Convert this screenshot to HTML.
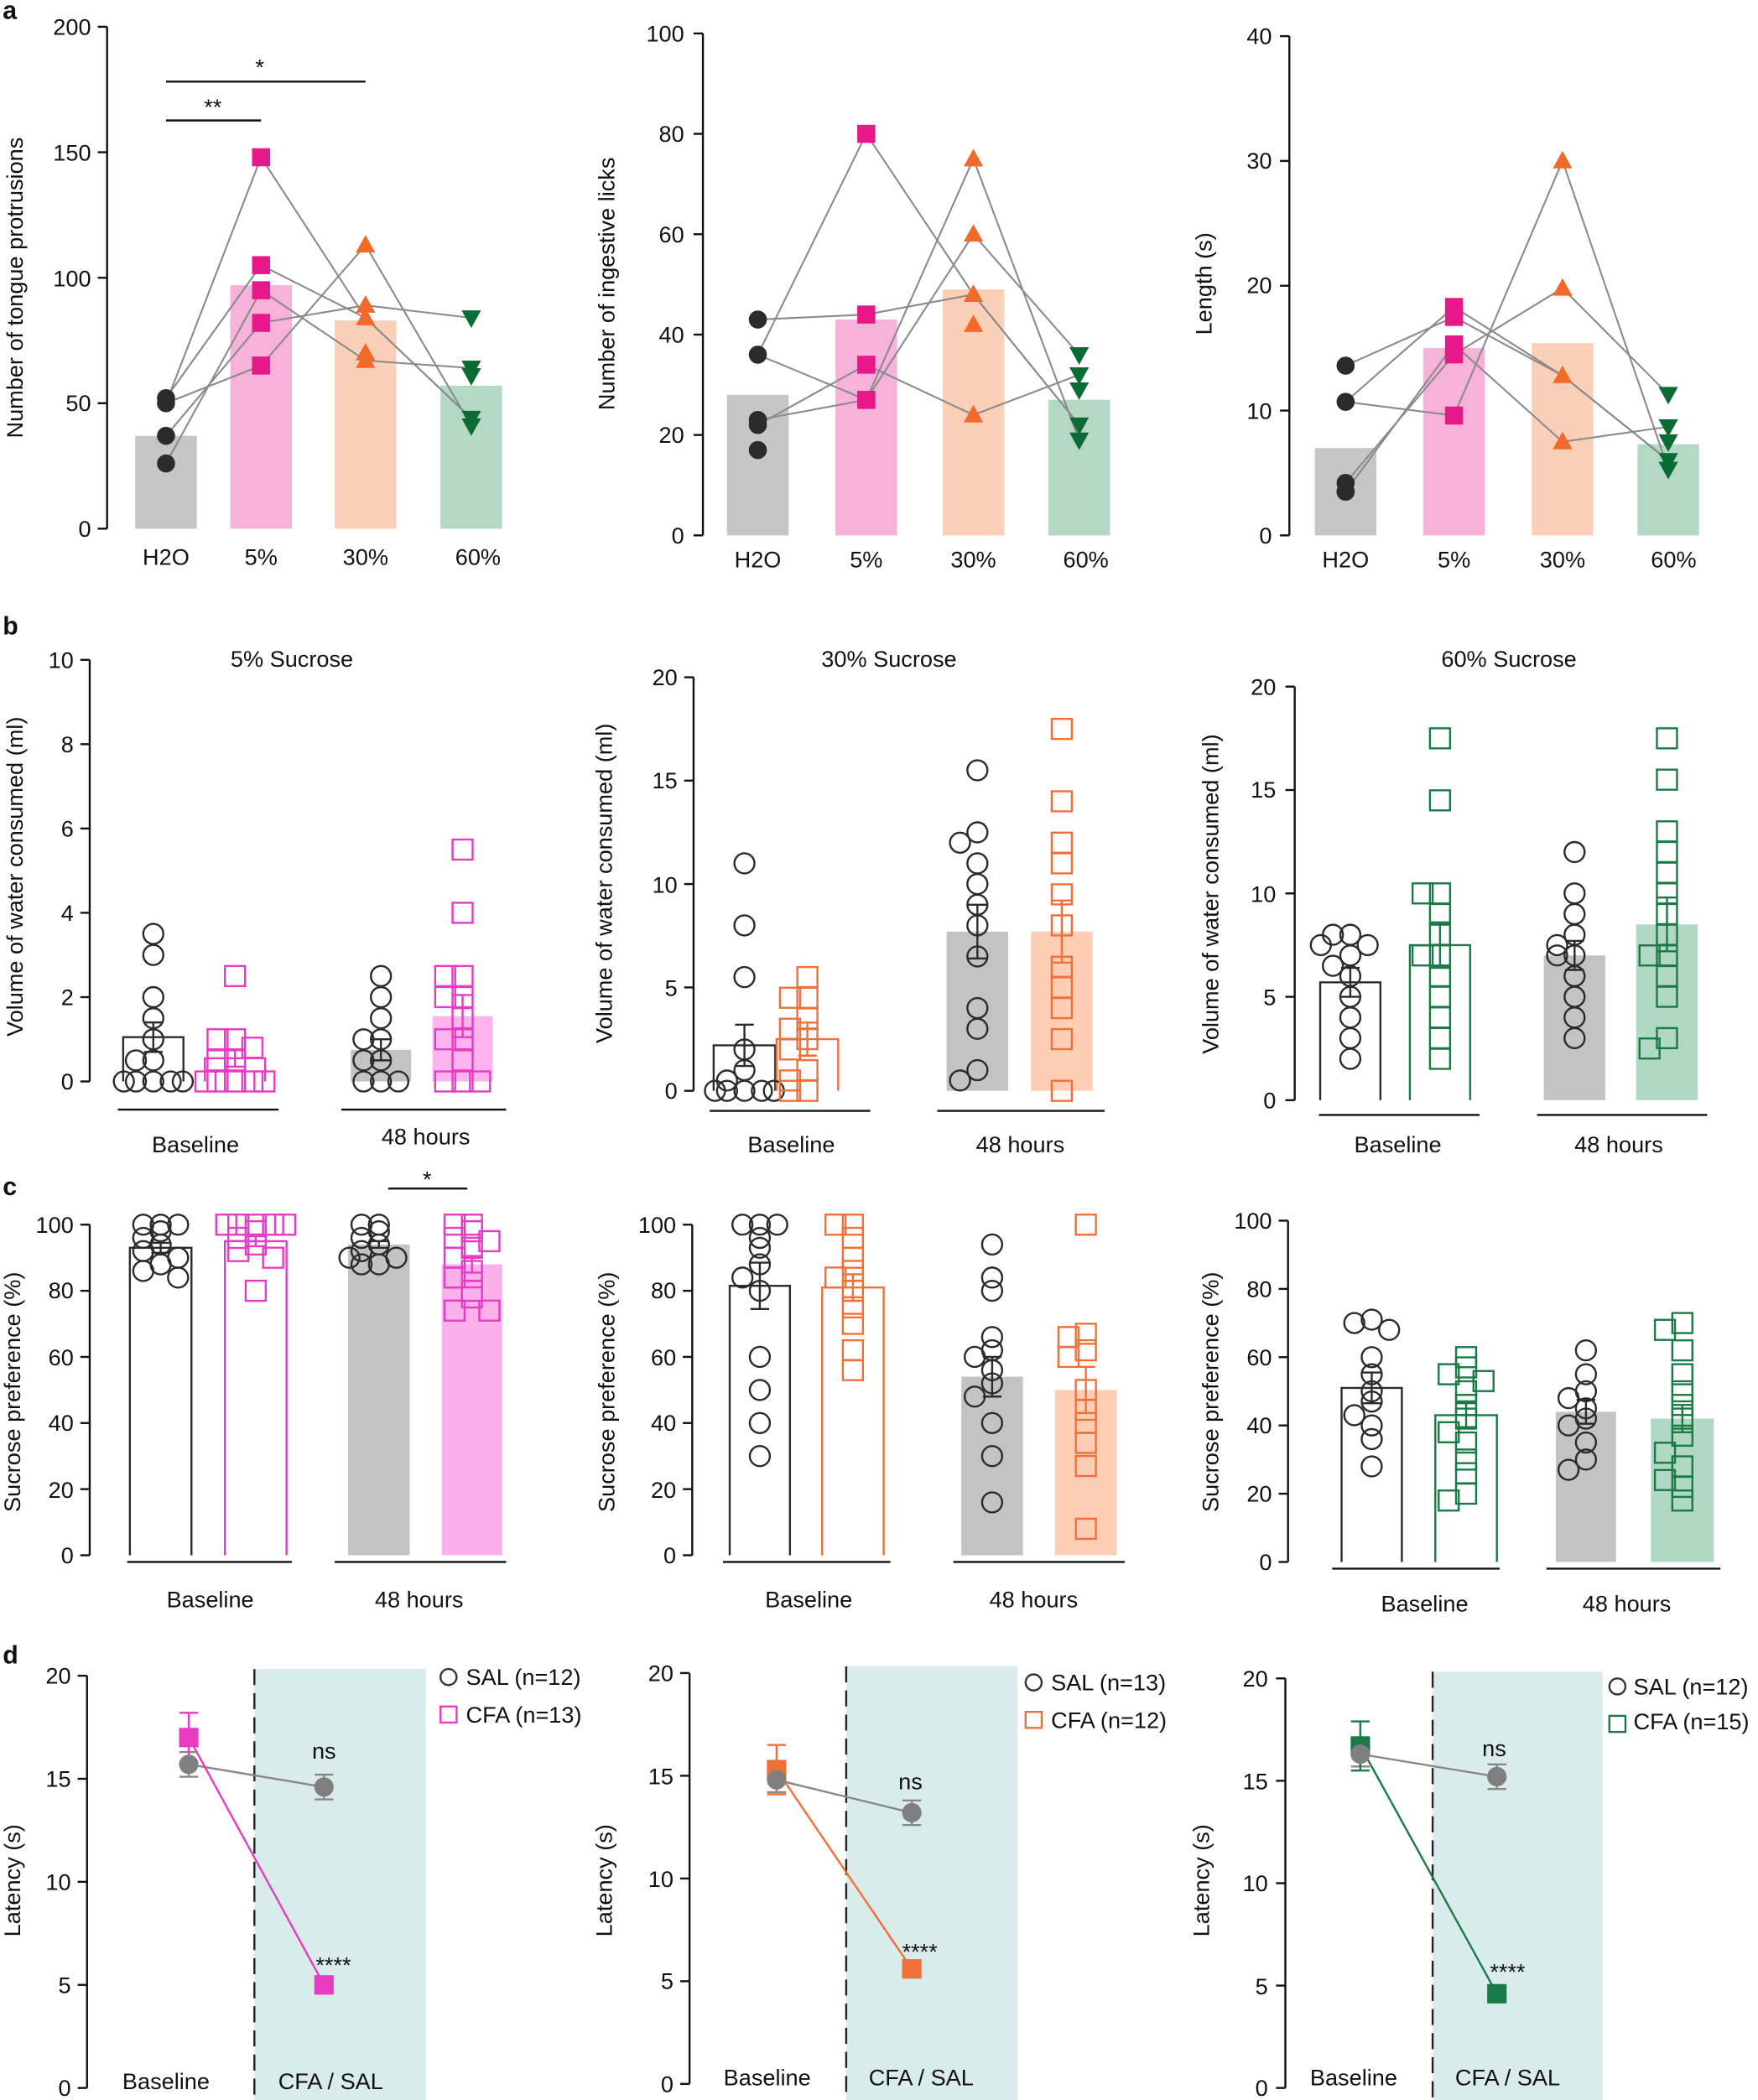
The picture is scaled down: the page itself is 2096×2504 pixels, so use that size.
<!DOCTYPE html>
<html><head><meta charset="utf-8"><style>
html,body{margin:0;padding:0;background:#fff}
svg{display:block}
text{font-family:"Liberation Sans",Arial,sans-serif;fill:#111}
.t{font-size:17px}
.tr{font-size:17px;text-anchor:end}
.m{font-size:17px;text-anchor:middle}
.b{font-size:19px;font-weight:bold}
</style></head><body>
<svg id="s" width="2096" height="2504" viewBox="0 0 1313 1569" preserveAspectRatio="none" xmlns="http://www.w3.org/2000/svg">
<g id="shapes"></g>
<text class="b" x="2" y="14">a</text>
<text class="b" x="2" y="474">b</text>
<text class="b" x="2" y="893">c</text>
<text class="b" x="2" y="1243">d</text>
<!-- a1 -->
<text class="tr" x="68" y="401">0</text><text class="tr" x="68" y="307">50</text><text class="tr" x="68" y="214">100</text><text class="tr" x="68" y="120">150</text><text class="tr" x="68" y="26">200</text>
<text class="m" x="124" y="422">H2O</text><text class="m" x="195" y="422">5%</text><text class="m" x="273" y="422">30%</text><text class="m" x="357" y="422">60%</text>
<text class="m" transform="translate(17,215) rotate(-90)">Number of tongue protrusions</text>
<text class="m" x="159" y="86">**</text><text class="m" x="194" y="56">*</text>
<!-- a2 -->
<text class="tr" x="511" y="406">0</text><text class="tr" x="511" y="331">20</text><text class="tr" x="511" y="256">40</text><text class="tr" x="511" y="181">60</text><text class="tr" x="511" y="106">80</text><text class="tr" x="511" y="31">100</text>
<text class="m" x="566" y="424">H2O</text><text class="m" x="647" y="424">5%</text><text class="m" x="727" y="424">30%</text><text class="m" x="811" y="424">60%</text>
<text class="m" transform="translate(459,212) rotate(-90)">Number of ingestive licks</text>
<!-- a3 -->
<text class="tr" x="950" y="406">0</text><text class="tr" x="950" y="313">10</text><text class="tr" x="950" y="219">20</text><text class="tr" x="950" y="126">30</text><text class="tr" x="950" y="33">40</text>
<text class="m" x="1005" y="424">H2O</text><text class="m" x="1086" y="424">5%</text><text class="m" x="1167" y="424">30%</text><text class="m" x="1250" y="424">60%</text>
<text class="m" transform="translate(905,212) rotate(-90)">Length (s)</text>
<!-- b1 -->
<text class="m" x="218" y="498">5% Sucrose</text>
<text class="tr" x="55" y="814">0</text><text class="tr" x="55" y="751">2</text><text class="tr" x="55" y="688">4</text><text class="tr" x="55" y="625">6</text><text class="tr" x="55" y="562">8</text><text class="tr" x="55" y="499">10</text>
<text class="m" x="146" y="861">Baseline</text><text class="m" x="318" y="855">48 hours</text>
<text class="m" transform="translate(17,655) rotate(-90)">Volume of water consumed (ml)</text>
<!-- b2 -->
<text class="m" x="664" y="498">30% Sucrose</text>
<text class="tr" x="506" y="821">0</text><text class="tr" x="506" y="744">5</text><text class="tr" x="506" y="667">10</text><text class="tr" x="506" y="589">15</text><text class="tr" x="506" y="512">20</text>
<text class="m" x="591" y="861">Baseline</text><text class="m" x="762" y="861">48 hours</text>
<text class="m" transform="translate(457,660) rotate(-90)">Volume of water consumed (ml)</text>
<!-- b3 -->
<text class="m" x="1127" y="498">60% Sucrose</text>
<text class="tr" x="953" y="828">0</text><text class="tr" x="953" y="751">5</text><text class="tr" x="953" y="674">10</text><text class="tr" x="953" y="596">15</text><text class="tr" x="953" y="519">20</text>
<text class="m" x="1044" y="861">Baseline</text><text class="m" x="1209" y="861">48 hours</text>
<text class="m" transform="translate(910,668) rotate(-90)">Volume of water consumed (ml)</text>
<!-- c1 -->
<text class="tr" x="55" y="1168">0</text><text class="tr" x="55" y="1119">20</text><text class="tr" x="55" y="1069">40</text><text class="tr" x="55" y="1020">60</text><text class="tr" x="55" y="970">80</text><text class="tr" x="55" y="921">100</text>
<text class="m" x="157" y="1201">Baseline</text><text class="m" x="313" y="1201">48 hours</text>
<text class="m" transform="translate(15,1040) rotate(-90)">Sucrose preference (%)</text>
<text class="m" x="319" y="887">*</text>
<!-- c2 -->
<text class="tr" x="505" y="1168">0</text><text class="tr" x="505" y="1119">20</text><text class="tr" x="505" y="1069">40</text><text class="tr" x="505" y="1020">60</text><text class="tr" x="505" y="970">80</text><text class="tr" x="505" y="921">100</text>
<text class="m" x="604" y="1201">Baseline</text><text class="m" x="772" y="1201">48 hours</text>
<text class="m" transform="translate(459,1040) rotate(-90)">Sucrose preference (%)</text>
<!-- c3 -->
<text class="tr" x="950" y="1173">0</text><text class="tr" x="950" y="1122">20</text><text class="tr" x="950" y="1071">40</text><text class="tr" x="950" y="1020">60</text><text class="tr" x="950" y="969">80</text><text class="tr" x="950" y="918">100</text>
<text class="m" x="1064" y="1204">Baseline</text><text class="m" x="1215" y="1204">48 hours</text>
<text class="m" transform="translate(910,1040) rotate(-90)">Sucrose preference (%)</text>
<!-- d1 -->
<text class="tr" x="53" y="1566">0</text><text class="tr" x="53" y="1489">5</text><text class="tr" x="53" y="1412">10</text><text class="tr" x="53" y="1335">15</text><text class="tr" x="53" y="1258">20</text>
<text class="m" transform="translate(15,1405) rotate(-90)">Latency (s)</text>
<text class="m" x="124" y="1561">Baseline</text><text class="m" x="247" y="1561">CFA / SAL</text>
<text class="t" x="348" y="1259">SAL (n=12)</text><text class="t" x="348" y="1287">CFA (n=13)</text>
<text class="m" x="242" y="1314">ns</text><text class="m" x="249" y="1474">****</text>
<!-- d2 -->
<text class="tr" x="503" y="1563">0</text><text class="tr" x="503" y="1486">5</text><text class="tr" x="503" y="1410">10</text><text class="tr" x="503" y="1333">15</text><text class="tr" x="503" y="1256">20</text>
<text class="m" transform="translate(457,1405) rotate(-90)">Latency (s)</text>
<text class="m" x="573" y="1558">Baseline</text><text class="m" x="688" y="1558">CFA / SAL</text>
<text class="t" x="785" y="1263">SAL (n=13)</text><text class="t" x="785" y="1291">CFA (n=12)</text>
<text class="m" x="680" y="1337">ns</text><text class="m" x="687" y="1464">****</text>
<!-- d3 -->
<text class="tr" x="947" y="1566">0</text><text class="tr" x="947" y="1490">5</text><text class="tr" x="947" y="1413">10</text><text class="tr" x="947" y="1337">15</text><text class="tr" x="947" y="1260">20</text>
<text class="m" transform="translate(903,1405) rotate(-90)">Latency (s)</text>
<text class="m" x="1011" y="1558">Baseline</text><text class="m" x="1126" y="1558">CFA / SAL</text>
<text class="t" x="1220" y="1266">SAL (n=12)</text><text class="t" x="1220" y="1292">CFA (n=15)</text>
<text class="m" x="1116" y="1312">ns</text><text class="m" x="1126" y="1479">****</text>
</svg>
<script>
var G=document.getElementById('shapes'),NS='http://www.w3.org/2000/svg';
function el(n,a){var e=document.createElementNS(NS,n);for(var k in a)e.setAttribute(k,a[k]);G.appendChild(e);return e;}
function line(x1,y1,x2,y2,c,w,d){var a={x1:x1,y1:y1,x2:x2,y2:y2,stroke:c||'#111','stroke-width':w||1.5};if(d)a['stroke-dasharray']=d;el('line',a);}
function axis(x,top,bot,n,L){line(x,top,x,bot);for(var i=0;i<=n;i++){var y=bot-(bot-top)*i/n;line(x-7,y,x,y);}if(L)line(x,bot,L,bot);}
function Y(top,bot,max){return function(v){return bot-(bot-top)*v/max;};}
function mk(s,x,y,c,fill,r){r=r||6.5;var st={stroke:c,'stroke-width':1.5,fill:fill?c:'none'};
 if(s=='c'){st.cx=x;st.cy=y;st.r=r;el('circle',st);}
 else if(s=='s'){st.x=x-r;st.y=y-r;st.width=2*r;st.height=2*r;el('rect',st);}
 else if(s=='t'){st.points=(x)+','+(y-r)+' '+(x+r)+','+(y+r*0.8)+' '+(x-r)+','+(y+r*0.8);el('polygon',st);}
 else if(s=='v'){st.points=(x)+','+(y+r)+' '+(x+r)+','+(y-r*0.8)+' '+(x-r)+','+(y-r*0.8);el('polygon',st);}}
function bar(x1,x2,y,bot,col,outline){if(outline)el('path',{d:'M'+x1+','+bot+'V'+y+'H'+x2+'V'+bot,fill:'none',stroke:col,'stroke-width':1.5});else el('rect',{x:x1,y:y,width:x2-x1,height:bot-y,fill:col});}
function err(x,yl,yh,c){line(x,yl,x,yh,c);line(x-7,yl,x+7,yl,c);line(x-7,yh,x+7,yh,c);}
var OFF=[0,-13,13,-22,22,-7,7,-18,18];
function dots(xc,vals,f,s,c,fill,r){var seen={};vals.forEach(function(v,i){var k=Math.round(f(v)/13);seen[k]=(seen[k]||0);var o=OFF[seen[k]%OFF.length];seen[k]++;mk(s,xc+o,f(v),c,fill,r);});}
var K='#2b2b2b',PK='#e6198a',OR='#f26a2a',GR='#0a6b35',P2='#e83bc4',O2='#f07038',G2='#1a7a45';
function apanel(x0,top,bot,max,nt,xs,bars,pts){var f=Y(top,bot,max);axis(x0,top,bot,nt);
 var cols=['#c6c6c6','#f6b2d8','#fcd0b8','#b3d8c4'];bars.forEach(function(b,i){bar(xs[i]-23,xs[i]+23,f(b),bot,cols[i]);});
 var perm=[[0,1,2,3],[1,0,2,3],[2,3,1,0],[3,2,4,1],[1,4,0,4]];
 for(var j=0;j<5;j++){var p=[];for(var g=0;g<4;g++){var a=pts[g];var v=a[Math.min(perm[j][g],a.length-1)];p.push(xs[g]+','+f(v));}el('polyline',{points:p.join(' '),fill:'none',stroke:'#8a8a8a','stroke-width':1.3});}
 var sh=['c','s','t','v'],cc=[K,PK,OR,GR];pts.forEach(function(a,g){a.forEach(function(v){mk(sh[g],xs[g],f(v),cc[g],true,6);});});}
apanel(80,20,395,200,4,[124,195,273,352],[37,97,83,57],[[52,50,37,26],[148,105,95,82,65],[113,89,84,70,67],[84,64,61,44,41]]);
line(124,90,195,90);line(124,61,273,61);
apanel(525,25,400,100,5,[566,647,727,806],[28,43,49,27],[[43,36,23,22,17],[80,44,34,27,27],[75,60,48,42,24],[36,32,29,22,19]]);
apanel(963,27,400,40,4,[1005,1086,1167,1246],[7,15,15.4,7.3],[[13.6,10.7,4.2,3.5,3.5],[18.3,17.5,15.3,14.5,9.6],[30,19.8,12.8,7.5,7.5],[11.3,8.7,7.5,6,5.3]]);
function bpanel(x0,top,bot,max,nt,B,ul,ulY,col,fillc){var f=Y(top,bot,max);axis(x0,top,bot,nt);
 bar(B[0][0],B[0][1],f(B[0][2]),bot,K,true);bar(B[1][0],B[1][1],f(B[1][2]),bot,col,true);
 bar(B[2][0],B[2][1],f(B[2][2]),bot,'#c3c3c3');bar(B[3][0],B[3][1],f(B[3][2]),bot,fillc);
 var sh=['c','s','c','s'],cc=[K,col,K,col];
 B.forEach(function(b,i){var xc=(b[0]+b[1])/2;dots(xc,b[4],f,sh[i],cc[i],false,7.5);err(xc,f(b[2]-b[3]),f(b[2]+b[3]),cc[i]);});
 line(ul[0],ulY,ul[1],ulY);line(ul[2],ulY,ul[3],ulY);}
bpanel(67,493,808,10,5,[[92,137,1.05,0.35,[3.5,3,2,1.5,1,0.5,0,0,0,0,0.5,0]],[153,198,0.55,0.2,[2.5,1,1,0.5,0.5,0,0,0,0,0,0.8]],[262,307,0.75,0.25,[2.5,2,1.5,1,1,0.5,0,0,0,0.5]],[323,368,1.55,0.5,[5.5,4,2.5,2.5,2,2,1,1,0.5,0,0,0,1.5]]],[88,208,255,378],829,P2,'#fbb4ec');
bpanel(518,506,815,20,4,[[533,579,2.2,1,[11,8,5.5,2,1,0.5,0,0,0,0,0]],[580,626,2.5,0.8,[5.5,4.5,4.5,3.5,3,2.5,2,1,0.5,0,0]],[707,753,7.7,1.3,[15.5,12.5,12,11,10,9,8,6.5,4,3,1,0.5]],[770,816,7.7,1.5,[17.5,14,12,11,9.5,8,6,5,4,2.5,0]]],[530,650,700,825],830,O2,'#fdcdb6');
bpanel(967,513,822,20,4,[[986,1031,5.7,0.7,[8,8,7.5,7,6,5,4,3,2,7.5,6.5]],[1053,1098,7.5,1.1,[17.5,14.5,10,10,9,8,7,6,5,4,3,2,7]],[1153,1199,7.0,0.7,[12,10,9,8,7,7,6,5,4,3,7.5]],[1222,1268,8.5,1.3,[17.5,15.5,13,12,11,10,9,8,7,6,5,3,2.5,7]]],[985,1105,1148,1275],833,G2,'#b1d8c2');
bpanel(67,915,1162,100,5,[[97,143,93,1.5,[100,100,100,98,96,94,92,90,88,86,84]],[168,214,95,1.5,[100,100,100,100,100,98,96,94,92,90,80]],[260,306,94,1,[100,100,98,96,94,92,90,90,88,88]],[330,375,88,2.5,[100,100,98,96,95,93,90,86,84,80,78,74,74]]],[95,218,250,378],1167,P2,'#fbb0ec');
line(290,888,349,888);
bpanel(517,915,1162,100,5,[[545,590,81.5,7,[100,100,100,96,93,88,84,80,60,50,40,30]],[614,660,81,4,[100,100,96,90,86,84,80,75,70,62,56]],[718,764,54,6,[94,84,80,66,62,60,56,52,48,40,30,16]],[788,834,50,7,[100,67,66,62,60,50,44,40,34,27,8]]],[540,665,712,840],1167,O2,'#fdcdb6');
bpanel(962,912,1167,100,5,[[1002,1047,51,4.5,[71,70,68,60,55,50,47,43,40,36,28]],[1072,1118,43,3.5,[60,57,55,53,50,46,42,38,35,30,26,20,18]],[1162,1207,44,3.5,[62,55,50,48,45,42,40,35,30,27]],[1233,1280,42,4,[70,68,62,55,50,46,42,37,32,28,22,18,24]]],[995,1120,1155,1285],1172,G2,'#b1d8c2');
function dpanel(x0,top,bot,xa,xb,shL,shR,sal,cfa,col,lx,ly){var f=Y(top,bot,20);
 el('rect',{x:shL,y:top-5,width:shR-shL,height:1569-(top-5),fill:'#d9ebeb'});
 line(shL,top-5,shL,1569,'#222',1.5,'12,6');
 axis(x0,top,bot,4);
 el('polyline',{points:xa+','+f(sal[0])+' '+xb+','+f(sal[1]),fill:'none',stroke:'#888','stroke-width':1.5});
 el('polyline',{points:xa+','+f(cfa[0])+' '+xb+','+f(cfa[1]),fill:'none',stroke:col,'stroke-width':1.5});
 err(xa,f(sal[0]-0.6),f(sal[0]+0.6),'#888');err(xb,f(sal[1]-0.6),f(sal[1]+0.6),'#888');
 err(xa,f(cfa[0]-1.2),f(cfa[0]+1.2),col);
 mk('s',xa,f(cfa[0]),col,true,6.5);mk('s',xb,f(cfa[1]),col,true,6.5);
 mk('c',xa,f(sal[0]),'#7f7f7f',true,6.5);mk('c',xb,f(sal[1]),'#7f7f7f',true,6.5);
 mk('c',lx,ly,'#333',false,6);mk('s',lx,ly+28,col,false,6);}
dpanel(65,1252,1560,141,242,190,318,[15.7,14.6],[17,5],P2,335,1253);
dpanel(515,1250,1557,580,681,632,760,[14.8,13.2],[15.3,5.6],O2,772,1257);
dpanel(960,1254,1560,1016,1118,1070,1197,[16.3,15.2],[16.7,4.6],G2,1208,1260);
</script>
</body></html>
